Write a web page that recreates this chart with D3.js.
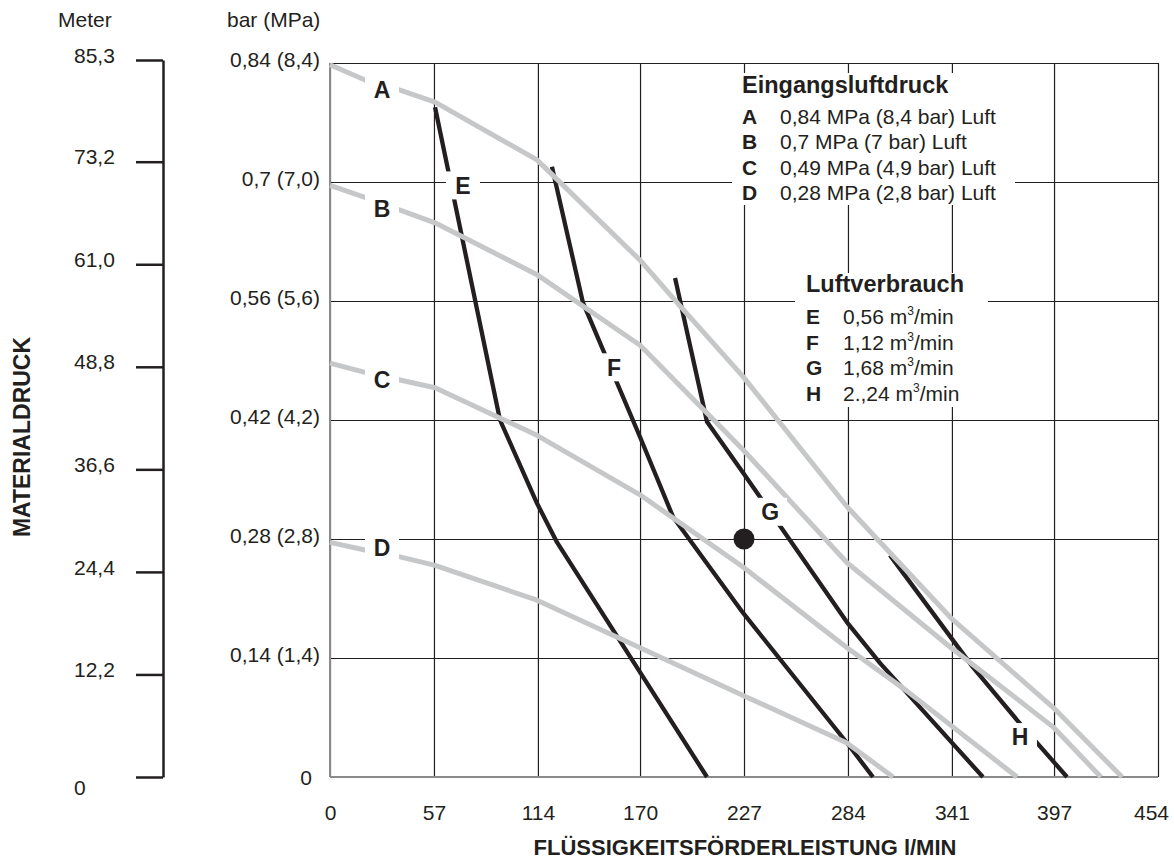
<!DOCTYPE html>
<html>
<head>
<meta charset="utf-8">
<script src="https://d3js.org/d3.v7.min.js"></script>
<style>
  body { margin: 0; background: #fff; }
  svg { font-family: "Liberation Sans", Arial, Helvetica, sans-serif; }
</style>
</head>
<body>
<script>

// ================================ data
var xTicks = [0, 57, 114, 170, 227, 284, 341, 397, 454];
var yTicks = [0, 0.14, 0.28, 0.42, 0.56, 0.7, 0.84];
var yTickLabels = ["0", "0,14 (1,4)", "0,28 (2,8)", "0,42 (4,2)", "0,56 (5,6)", "0,7 (7,0)", "0,84 (8,4)"];
var meterTicks = [0, 12.2, 24.4, 36.6, 48.8, 61.0, 73.2, 85.3];
var meterLabels = ["0", "12,2", "24,4", "36,6", "48,8", "61,0", "73,2", "85,3"];

// inlet air pressure curves (l/min, MPa)
var curveA = [[0, 0.838], [19.2, 0.820], [38.4, 0.808], [57.6, 0.794], [113.5, 0.726], [170, 0.608], [190.3, 0.558], [226.5, 0.471], [283.5, 0.318], [340.5, 0.187], [396.4, 0.082], [434.3, 0]];
var curveB = [[0, 0.696], [19.2, 0.682], [38.4, 0.667], [57.6, 0.652], [113.5, 0.591], [170, 0.508], [226.5, 0.385], [283.5, 0.252], [340, 0.153], [396.4, 0.059], [422.7, 0]];
var curveC = [[0, 0.487], [19.2, 0.476], [38.4, 0.467], [57.6, 0.458], [113.5, 0.402], [170, 0.332], [226.5, 0.247], [283.5, 0.152], [316.4, 0.101], [376.7, 0]];
var curveD = [[0, 0.276], [19.2, 0.267], [38.4, 0.259], [57.6, 0.249], [113.5, 0.208], [170, 0.152], [226.5, 0.096], [283.5, 0.040], [308.7, 0]];

// air consumption curves
var curveE = [[57.6, 0.788], [93.2, 0.420], [113.5, 0.322], [124.5, 0.276], [206.7, 0]];
var curveF = [[121.7, 0.718], [138.7, 0.558], [170, 0.400], [188.1, 0.306], [226.5, 0.193], [283.5, 0.040], [297.7, 0]];
var curveG = [[189.2, 0.587], [206.7, 0.418], [226.5, 0.358], [283.5, 0.182], [301.6, 0.134], [358, 0]];
var curveH = [[307, 0.261], [352.6, 0.129], [376.7, 0.067], [404.1, 0]];

// operating point
var pointX = 227, pointY = 0.28;

// curve letters, anchored on the curves (l/min, MPa)
var curveLabels = [["A", 28.5, 0.808], ["B", 28.5, 0.669], ["C", 28.5, 0.467], ["D", 28.5, 0.27],
                   ["E", 72.9, 0.696], ["F", 155.7, 0.482], ["G", 241.3, 0.312], ["H", 378.3, 0.047]];

var pressureKeys = ["A", "B", "C", "D"];
var pressureText = ["0,84 MPa (8,4 bar) Luft", "0,7 MPa (7 bar) Luft", "0,49 MPa (4,9 bar) Luft", "0,28 MPa (2,8 bar) Luft"];
var airKeys = ["E", "F", "G", "H"];
var airText = ["0,56", "1,12", "1,68", "2.,24"];

// ================================ layout
var svgWidth = 1174;
var svgHeight = 862;

var chartMargin = {
  top: 63,
  right: 16,
  bottom: 85,
  left: 330
};

var chartWidth = svgWidth - chartMargin.left - chartMargin.right;
var chartHeight = svgHeight - chartMargin.top - chartMargin.bottom;

var ink = "#231f20";
var gray = "#c6c7c8";
var fontSize = 21;

var svg = d3.select("body")
  .append("svg")
  .attr("width", svgWidth)
  .attr("height", svgHeight);

var chartGroup = svg.append("g")
  .attr("transform", `translate(${chartMargin.left}, ${chartMargin.top})`);

var xScale = d3.scaleLinear().domain([0, 454]).range([0, chartWidth]);
var yScale = d3.scaleLinear().domain([0, 0.84]).range([chartHeight, 0]);
var meterScale = d3.scaleLinear().domain([0, 85.3]).range([777, 60]);

// ================================ grid
chartGroup.append("g")
  .attr("transform", `translate(0, ${chartHeight})`)
  .call(d3.axisBottom(xScale).tickValues(xTicks).tickSize(-chartHeight).tickFormat(""))
  .call(g => g.select(".domain").remove())
  .selectAll("line")
  .attr("stroke", ink)
  .attr("stroke-width", 1.2);

chartGroup.append("g")
  .call(d3.axisLeft(yScale).tickValues(yTicks).tickSize(-chartWidth).tickFormat(""))
  .call(g => g.select(".domain").remove())
  .selectAll("line")
  .attr("stroke", ink)
  .attr("stroke-width", 1.2);

// left and bottom frame in gray
chartGroup.append("line")
  .attr("x1", 0).attr("x2", 0).attr("y1", 0).attr("y2", chartHeight)
  .attr("stroke", "#8a8a8a").attr("stroke-width", 2);
chartGroup.append("line")
  .attr("x1", 0).attr("x2", chartWidth).attr("y1", chartHeight).attr("y2", chartHeight)
  .attr("stroke", "#8a8a8a").attr("stroke-width", 2);

// legend backgrounds hide the grid
svg.append("rect").attr("x", 732).attr("y", 73).attr("width", 283).attr("height", 132).attr("fill", "#fff");
svg.append("rect").attr("x", 795).attr("y", 273).attr("width", 193).attr("height", 134).attr("fill", "#fff");

// ================================ tick labels
var xAxisG = chartGroup.append("g")
  .attr("transform", `translate(0, ${chartHeight})`)
  .call(d3.axisBottom(xScale).tickValues(xTicks).tickSize(0).tickPadding(28));
xAxisG.select(".domain").remove();
xAxisG.attr("font-size", fontSize).attr("font-family", null);
xAxisG.selectAll("text")
  .attr("fill", ink)
  .attr("x", d => d === 454 ? -7 : 0);

var yAxisG = chartGroup.append("g")
  .call(d3.axisLeft(yScale).tickValues(yTicks).tickSize(0).tickPadding(10)
    .tickFormat((d, i) => yTickLabels[i]));
yAxisG.select(".domain").remove();
yAxisG.attr("font-size", fontSize).attr("font-family", null);
yAxisG.selectAll("text")
  .attr("fill", ink)
  .attr("dy", d => d === 0 ? "0.35em" : "0.15em")
  .attr("x", d => d === 0 ? -18 : -10);

// meter scale on the far left
var meterG = svg.append("g")
  .attr("transform", "translate(163, 0)")
  .call(d3.axisLeft(meterScale).tickValues(meterTicks).tickSize(27).tickSizeOuter(0)
    .tickFormat((d, i) => meterLabels[i]));
meterG.attr("font-size", fontSize).attr("font-family", null);
meterG.select(".domain").attr("stroke", ink).attr("stroke-width", 2.5);
meterG.selectAll("line").attr("stroke", ink).attr("stroke-width", 2.5);
meterG.selectAll("text")
  .attr("fill", ink)
  .attr("text-anchor", "start")
  .attr("x", -89)
  .attr("dy", d => d === 0 ? "0.85em" : "0.1em");

// axis titles
svg.append("text").attr("x", 58).attr("y", 27).attr("font-size", fontSize).attr("fill", ink).text("Meter");
svg.append("text").attr("x", 227).attr("y", 27).attr("font-size", fontSize).attr("fill", ink).text("bar (MPa)");

svg.append("text")
  .attr("transform", "translate(30, 437) rotate(-90)")
  .attr("text-anchor", "middle")
  .attr("font-size", 23)
  .attr("font-weight", "bold")
  .attr("fill", ink)
  .text("MATERIALDRUCK");

svg.append("text")
  .attr("x", 745)
  .attr("y", 855)
  .attr("text-anchor", "middle")
  .attr("font-size", 22)
  .attr("font-weight", "bold")
  .attr("fill", ink)
  .text("FLÜSSIGKEITSFÖRDERLEISTUNG l/MIN");

// ================================ curves
var curveLine = d3.line()
  .x(d => xScale(d[0]))
  .y(d => yScale(d[1]));

chartGroup.selectAll(".air")
  .data([curveE, curveF, curveG, curveH])
  .enter()
  .append("path")
  .attr("class", "air")
  .attr("d", curveLine)
  .attr("fill", "none")
  .attr("stroke", ink)
  .attr("stroke-width", 4.3)
  .attr("stroke-linejoin", "round");

chartGroup.selectAll(".pressure")
  .data([curveA, curveB, curveC, curveD])
  .enter()
  .append("path")
  .attr("class", "pressure")
  .attr("d", curveLine)
  .attr("fill", "none")
  .attr("stroke", gray)
  .attr("stroke-width", 5)
  .attr("stroke-linejoin", "round");

chartGroup.append("circle")
  .attr("cx", xScale(pointX))
  .attr("cy", yScale(pointY))
  .attr("r", 10.5)
  .attr("fill", ink);

// curve letters on white patches
var labelG = chartGroup.selectAll(".curve-label")
  .data(curveLabels)
  .enter()
  .append("g")
  .attr("class", "curve-label")
  .attr("transform", d => `translate(${xScale(d[1])}, ${yScale(d[2])})`);

labelG.append("rect")
  .attr("x", -17).attr("y", -14)
  .attr("width", 34).attr("height", 28)
  .attr("fill", "#fff");

labelG.append("text")
  .attr("text-anchor", "middle")
  .attr("dy", "0.36em")
  .attr("font-size", 23)
  .attr("font-weight", "bold")
  .attr("fill", ink)
  .text(d => d[0]);

// ================================ legends
svg.append("text")
  .attr("x", 742).attr("y", 93)
  .attr("font-size", 23.5).attr("font-weight", "bold").attr("fill", ink)
  .text("Eingangsluftdruck");

pressureKeys.forEach(function (k, i) {
  var yy = 124 + i * 25.4;
  svg.append("text").attr("x", 742).attr("y", yy)
    .attr("font-size", fontSize).attr("font-weight", "bold").attr("fill", ink).text(k);
  svg.append("text").attr("x", 780).attr("y", yy)
    .attr("font-size", fontSize).attr("fill", ink).text(pressureText[i]);
});

svg.append("text")
  .attr("x", 806).attr("y", 292)
  .attr("font-size", 23.5).attr("font-weight", "bold").attr("fill", ink)
  .text("Luftverbrauch");

airKeys.forEach(function (k, i) {
  var yy = 324 + i * 25.5;
  svg.append("text").attr("x", 806).attr("y", yy)
    .attr("font-size", fontSize).attr("font-weight", "bold").attr("fill", ink).text(k);
  var t = svg.append("text").attr("x", 843).attr("y", yy)
    .attr("font-size", fontSize).attr("fill", ink);
  t.append("tspan").text(airText[i] + " m");
  t.append("tspan").attr("font-size", 12).attr("dy", -9).text("3");
  t.append("tspan").attr("dy", 9).text("/min");
});

</script>
</body>
</html>
